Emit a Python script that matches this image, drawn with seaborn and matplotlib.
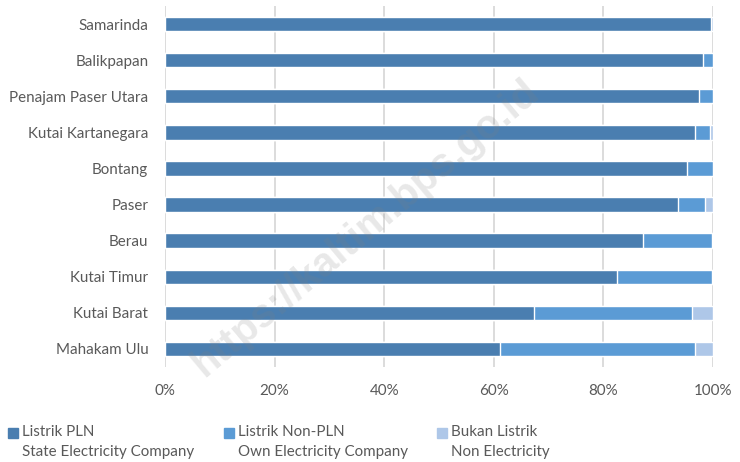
import matplotlib
matplotlib.use("Agg")
import matplotlib.pyplot as plt
import pandas as pd
import seaborn as sns
from matplotlib.patches import Rectangle
from matplotlib.ticker import PercentFormatter

# Data (percent of households)
regions = ['Samarinda', 'Balikpapan', 'Penajam Paser Utara', 'Kutai Kartanegara',
           'Bontang', 'Paser', 'Berau', 'Kutai Timur', 'Kutai Barat', 'Mahakam Ulu']
pln = [99.6, 98.1, 97.4, 96.7, 95.3, 93.6, 87.2, 82.5, 67.3, 61.1]
non_pln = [0.1, 1.9, 2.6, 2.7, 4.7, 4.9, 12.6, 17.3, 28.9, 35.6]
bukan = [0.3, 0.0, 0.0, 0.6, 0.0, 1.5, 0.2, 0.2, 3.8, 3.3]

labels = ['Listrik PLN\nState Electricity Company',
          'Listrik Non-PLN\nOwn Electricity Company',
          'Bukan Listrik\nNon Electricity']
colors = ['#4a7eb0', '#5b9bd5', '#aec7e8']

df = pd.DataFrame({'region': regions, 'pln': pln, 'non_pln': non_pln, 'bukan': bukan})
df['c1'] = df['pln']
df['c2'] = df['pln'] + df['non_pln']
df['c3'] = df['c2'] + df['bukan']

sns.set_style('white')
plt.rcParams['font.family'] = ['Lato', 'DejaVu Sans']
text_col = '#595959'
fs = 10.9

fig, ax = plt.subplots(figsize=(7.4, 4.62), dpi=100)
fig.subplots_adjust(left=165/740, right=713/740, top=1 - 6/462, bottom=1 - 367/462)

# stacked bars: draw cumulative totals back to front
for col, c in zip(['c3', 'c2', 'c1'], colors[::-1]):
    sns.barplot(data=df, x=col, y='region', order=regions, color=c,
                orient='h', width=0.4, ax=ax, saturation=1, zorder=3)

ax.set_xlim(0, 100)
ax.set_xticks(range(0, 101, 20))
ax.xaxis.set_major_formatter(PercentFormatter(decimals=0))
ax.grid(axis='x', color='#d9d9d9', linewidth=1.3, zorder=0)
ax.grid(axis='y', visible=False)
for s in ax.spines.values():
    s.set_visible(False)
ax.set_xlabel('')
ax.set_ylabel('')
ax.tick_params(axis='both', length=0, labelsize=fs, labelcolor=text_col)
ax.tick_params(axis='y', pad=12)
ax.tick_params(axis='x', pad=12.5)

# legend drawn by hand (two-line labels with marker at first line)
leg_x = [8, 224, 437]
for x, lab, c in zip(leg_x, labels, colors):
    fig.add_artist(Rectangle((x / 740, 1 - 438/462), 10/740, 10/462,
                             transform=fig.transFigure, color=c))
    l1, l2 = lab.split('\n')
    fig.text((x + 14) / 740, 1 - 432/462, l1, fontsize=fs, color=text_col, va='center')
    fig.text((x + 14) / 740, 1 - 452/462, l2, fontsize=fs, color=text_col, va='center')

# watermark
fig.text(365/740, 1 - 228/462, 'https://kaltim.bps.go.id', fontsize=29, fontweight='bold',
         color='#808080', alpha=0.18, rotation=40, ha='center', va='center',
         family='Liberation Sans', zorder=10)

fig.savefig('out.png', dpi=100)
